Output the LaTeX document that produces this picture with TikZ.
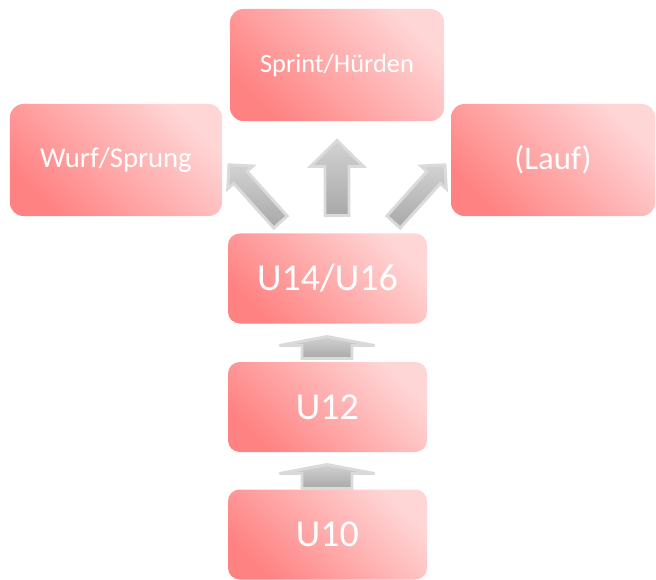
\documentclass[tikz,border=0pt]{standalone}
\usepackage{fontspec}
\setmainfont{Carlito}
\definecolor{boxdark}{HTML}{FF8282}
\definecolor{boxlight}{HTML}{FFD6D6}
\definecolor{arrowrim}{HTML}{DADADA}
\definecolor{arrowdark}{HTML}{A8A8A8}
\definecolor{arrowlight}{HTML}{D2D2D2}
\tikzset{
	agebox/.style={draw=none,rounded corners=0.4cm,inner sep=0pt,text=white,
		top color=boxlight,bottom color=boxdark,shading angle=-45},
	bigbox/.style={agebox,minimum width=#1,minimum height=3.36cm,
		font=\fontsize{22.5}{26}\selectfont},
	ubox/.style={agebox,rounded corners=0.35cm,minimum width=5.97cm,minimum height=2.7cm,
		font=\fontsize{32.5}{36}\selectfont},
	blockarrow/.style={draw=arrowrim,line width=2.5pt,line join=miter,
		top color=arrowlight,bottom color=arrowdark}
}
% arrow along local +y: #1 length, #2 head length, #3 head half width, #4 body half width
\newcommand{\blockarrow}[4]{%
	\filldraw[blockarrow] (-#4,0) -- (-#4,#1-#2) -- (-#3,#1-#2) -- (0,#1)
		-- (#3,#1-#2) -- (#4,#1-#2) -- (#4,0) -- cycle;}
\begin{document}
\begin{tikzpicture}[x=0.03cm,y=0.03cm]
	\useasboundingbox (0,0) rectangle (656,579);
	% target boxes
	\node[bigbox=6.42cm] (sprint) at (337,514) {Sprint/Hürden};
	\node[bigbox=6.36cm,font=\fontsize{24.5}{28}\selectfont] (wurf) at (116,419) {Wurf/Sprung};
	\node[bigbox=6.12cm,font=\fontsize{28}{32}\selectfont] (lauf) at (553,419) {(Lauf)};
	% age groups
	\node[ubox] (u14) at (327.5,300.5) {U14/U16};
	\node[ubox] (u12) at (327.5,172) {U12};
	\node[ubox] (u10) at (327.5,44.5) {U10};
	% arrows
	\coordinate (up) at (337,363.5);
	\coordinate (upleft) at (280.5,357);
	\coordinate (upright) at (393.5,357);
	\coordinate (step1) at (327,220.5);
	\coordinate (step2) at (327,90.5);
	\begin{scope}[shift={(up)}]
		\blockarrow{75}{26}{26.5}{12}
	\end{scope}
	\begin{scope}[shift={(upleft)},rotate=42]
		\blockarrow{77}{17}{17}{9}
	\end{scope}
	\begin{scope}[shift={(upright)},rotate=-42]
		\blockarrow{77}{17}{17}{9}
	\end{scope}
	\begin{scope}[shift={(step1)}]
		\blockarrow{22}{9}{47.5}{25}
	\end{scope}
	\begin{scope}[shift={(step2)}]
		\blockarrow{24}{9}{47.5}{25}
	\end{scope}
\end{tikzpicture}
\end{document}
